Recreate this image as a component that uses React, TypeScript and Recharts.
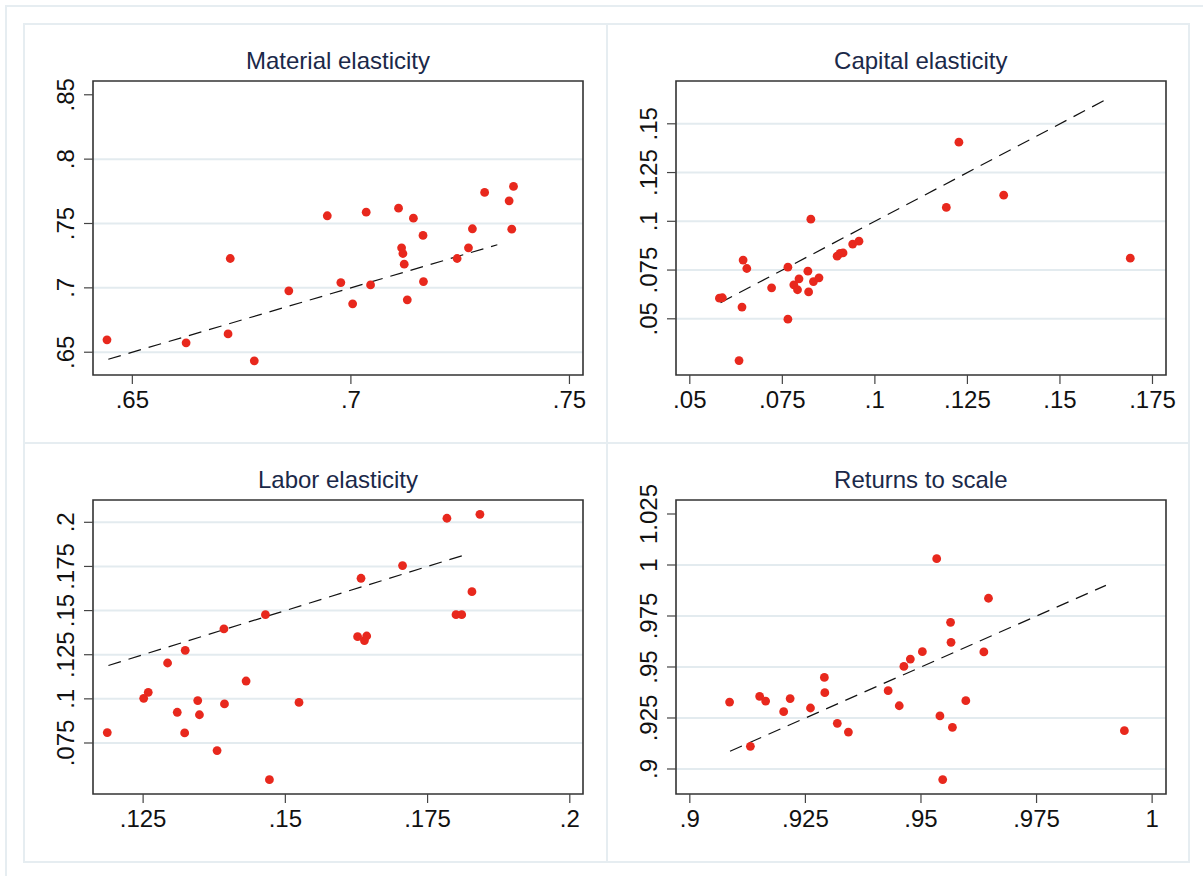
import React from 'react';
import { ScatterChart, Scatter, XAxis, YAxis, CartesianGrid, ReferenceLine, ReferenceArea } from 'recharts';

// ---------- data ----------
const materialX = [0.6442, 0.6623, 0.6719, 0.6724, 0.6779, 0.6858, 0.6946, 0.6977, 0.7004, 0.7035, 0.7045, 0.7109, 0.7116, 0.7119, 0.7122, 0.7129, 0.7143, 0.7165, 0.7166, 0.7243, 0.7269, 0.7278, 0.7306, 0.7362, 0.7368, 0.7372];
const materialY = [0.6596, 0.6573, 0.6642, 0.7228, 0.6433, 0.6977, 0.756, 0.7041, 0.6876, 0.7588, 0.7023, 0.7619, 0.7311, 0.7267, 0.7184, 0.6907, 0.7541, 0.7407, 0.7049, 0.7228, 0.7311, 0.7459, 0.7741, 0.7676, 0.7456, 0.7788];
const materialLine = [0.6445, 0.7335];

const capitalX = [0.058, 0.0588, 0.0644, 0.0654, 0.0641, 0.0633, 0.0721, 0.0765, 0.0765, 0.0781, 0.0791, 0.0795, 0.0819, 0.0821, 0.0827, 0.0834, 0.0849, 0.0898, 0.0906, 0.0914, 0.094, 0.0957, 0.1193, 0.1227, 0.1348, 0.169];
const capitalY = [0.0606, 0.0608, 0.0801, 0.0758, 0.056, 0.0286, 0.0659, 0.0765, 0.0498, 0.0674, 0.0649, 0.0705, 0.0744, 0.0638, 0.1011, 0.0691, 0.071, 0.0821, 0.0835, 0.0838, 0.0883, 0.0898, 0.1071, 0.1406, 0.1134, 0.0811];
const capitalLine = [0.0583, 0.1627];

const laborX = [0.1187, 0.1251, 0.1259, 0.1293, 0.131, 0.1323, 0.1324, 0.1346, 0.1349, 0.138, 0.1392, 0.1393, 0.1431, 0.1465, 0.1472, 0.1524, 0.1627, 0.1639, 0.1643, 0.1633, 0.1706, 0.1784, 0.18, 0.181, 0.1828, 0.1842];
const laborY = [0.0809, 0.1003, 0.1037, 0.1203, 0.0924, 0.0807, 0.1275, 0.099, 0.091, 0.0707, 0.1396, 0.0971, 0.1101, 0.1477, 0.0542, 0.098, 0.1352, 0.133, 0.1356, 0.1683, 0.1755, 0.2023, 0.1477, 0.1477, 0.1607, 0.2045];
const laborLine = [0.1189, 0.1817];

const rtsX = [0.9086, 0.9131, 0.9151, 0.9164, 0.9203, 0.9217, 0.9261, 0.9291, 0.9292, 0.9319, 0.9343, 0.9429, 0.9453, 0.9463, 0.9477, 0.9503, 0.9534, 0.9541, 0.9547, 0.9564, 0.9565, 0.9568, 0.9597, 0.9636, 0.9646, 0.994];
const rtsY = [0.9328, 0.9111, 0.9356, 0.9333, 0.9281, 0.9345, 0.9299, 0.9449, 0.9374, 0.9224, 0.9181, 0.9384, 0.931, 0.9503, 0.9539, 0.9575, 1.0031, 0.926, 0.8948, 0.9719, 0.9621, 0.9204, 0.9335, 0.9574, 0.9837, 0.9188];
const rtsLine = [0.9087, 0.99];

const materialXTicks = [0.65, 0.7, 0.75];
const materialYTicks = [0.65, 0.7, 0.75, 0.8, 0.85];
const materialGrid = [0.65, 0.7, 0.75, 0.8];
const capitalXTicks = [0.05, 0.075, 0.1, 0.125, 0.15, 0.175];
const capitalYTicks = [0.05, 0.075, 0.1, 0.125, 0.15];
const capitalGrid = [0.05, 0.075, 0.1, 0.125, 0.15];
const laborXTicks = [0.125, 0.15, 0.175, 0.2];
const laborYTicks = [0.075, 0.1, 0.125, 0.15, 0.175, 0.2];
const laborGrid = [0.075, 0.1, 0.125, 0.15, 0.175, 0.2];
const rtsXTicks = [0.9, 0.925, 0.95, 0.975, 1];
const rtsYTicks = [0.9, 0.925, 0.95, 0.975, 1, 1.025];
const rtsGrid = [0.9, 0.925, 0.95, 0.975, 1];

const titles = ['Material elasticity', 'Capital elasticity', 'Labor elasticity', 'Returns to scale'];

// ---------- styling ----------
const FONT = '"Liberation Sans", Arial, Helvetica, sans-serif';
const RED = '#e8281d';
const CW = 580;
const CH = 414;
const M = { top: 60, right: 20, bottom: 10, left: 10 };

const fmt = (v: number) => {
  const s = String(Math.round(v * 10000) / 10000);
  return s.startsWith('0.') ? s.slice(1) : s;
};

const XTick = (p: any) => (
  <text x={p.x} y={p.y} dy="0.72em" textAnchor="middle" fontSize={24} fill="#111" fontFamily={FONT}>
    {fmt(p.payload.value)}
  </text>
);

const YTick = (p: any) => (
  <text x={p.x} y={p.y} textAnchor="middle" fontSize={24} fill="#111" fontFamily={FONT} transform={`rotate(-90 ${p.x} ${p.y})`}>
    {fmt(p.payload.value)}
  </text>
);

const Dot = (p: any) => <circle cx={p.cx} cy={p.cy} r={4.4} fill={RED} />;

type PanelProps = {
  left: number;
  top: number;
  title: string;
  xs: number[];
  ys: number[];
  line: number[];
  xDomain: [number, number];
  yDomain: [number, number];
  xTicks: number[];
  yTicks: number[];
  grid: number[];
};

const Panel = ({ left, top, title, xs, ys, line, xDomain, yDomain, xTicks, yTicks, grid }: PanelProps) => {
  const data = xs.map((x, i) => ({ x, y: ys[i] }));
  return (
    <div style={{ position: 'absolute', left, top, width: CW, height: CH }}>
      <div
        style={{
          position: 'absolute',
          left: M.left + 60,
          top: 28.4,
          width: CW - M.left - 60 - M.right,
          textAlign: 'center',
          fontFamily: FONT,
          fontSize: 24,
          lineHeight: '24px',
          color: '#1b2949',
          whiteSpace: 'nowrap',
        }}
      >
        {title}
      </div>
      <ScatterChart width={CW} height={CH} margin={M}>
        <CartesianGrid horizontal vertical={false} horizontalValues={grid} stroke="#e3ebef" strokeWidth={2} />
        <XAxis
          type="number"
          dataKey="x"
          domain={xDomain}
          ticks={xTicks}
          interval={0}
          allowDataOverflow
          height={50}
          axisLine={false}
          tickSize={9}
          tickMargin={7}
          tickLine={{ stroke: '#444', strokeWidth: 1.2 }}
          tick={<XTick />}
        />
        <YAxis
          type="number"
          dataKey="y"
          domain={yDomain}
          ticks={yTicks}
          interval={0}
          allowDataOverflow
          width={60}
          axisLine={false}
          tickSize={9}
          tickMargin={10}
          tickLine={{ stroke: '#444', strokeWidth: 1.2 }}
          tick={<YTick />}
        />
        <ReferenceLine
          segment={[
            { x: line[0], y: line[0] },
            { x: line[1], y: line[1] },
          ]}
          stroke="#111"
          strokeWidth={1.2}
          strokeDasharray="13 8"
          ifOverflow="visible"
        />
        <Scatter data={data} shape={<Dot />} isAnimationActive={false} />
        <ReferenceArea
          x1={xDomain[0]}
          x2={xDomain[1]}
          y1={yDomain[0]}
          y2={yDomain[1]}
          fill="none"
          fillOpacity={0}
          stroke="#333"
          strokeWidth={1.6}
          ifOverflow="visible"
        />
      </ScatterChart>
    </div>
  );
};

const BORDER = '#e6edf1';

export default function App() {
  return (
    <div style={{ position: 'absolute', left: 0, top: 0, width: 1203, height: 876, background: '#fff', overflow: 'hidden' }}>
      {/* outer frame lines */}
      <div style={{ position: 'absolute', left: 4.7, top: 4.7, width: 2, height: 872, background: BORDER }} />
      <div style={{ position: 'absolute', left: 4.7, top: 4.7, width: 1199, height: 2, background: BORDER }} />
      {/* panel borders */}
      <div style={{ position: 'absolute', left: 23.3, top: 23.3, width: 1167, height: 839.4, border: `2px solid ${BORDER}`, boxSizing: 'border-box' }} />
      <div style={{ position: 'absolute', left: 605.7, top: 24, width: 2, height: 838, background: BORDER }} />
      <div style={{ position: 'absolute', left: 24, top: 442.3, width: 1166, height: 2, background: BORDER }} />

      <Panel left={23} top={20.5} title={titles[0]} xs={materialX} ys={materialY} line={materialLine}
        xDomain={[0.641, 0.7531]} yDomain={[0.6323, 0.8607]} xTicks={materialXTicks} yTicks={materialYTicks} grid={materialGrid} />
      <Panel left={605.8} top={20.5} title={titles[1]} xs={capitalX} ys={capitalY} line={capitalLine}
        xDomain={[0.04627, 0.17865]} yDomain={[0.02118, 0.17195]} xTicks={capitalXTicks} yTicks={capitalYTicks} grid={capitalGrid} />
      <Panel left={23} top={439.7} title={titles[2]} xs={laborX} ys={laborY} line={laborLine}
        xDomain={[0.11619, 0.20232]} yDomain={[0.04611, 0.21263]} xTicks={laborXTicks} yTicks={laborYTicks} grid={laborGrid} />
      <Panel left={605.8} top={439.7} title={titles[3]} xs={rtsX} ys={rtsY} line={rtsLine}
        xDomain={[0.89701, 1.003]} yDomain={[0.88774, 1.03186]} xTicks={rtsXTicks} yTicks={rtsYTicks} grid={rtsGrid} />
    </div>
  );
}
